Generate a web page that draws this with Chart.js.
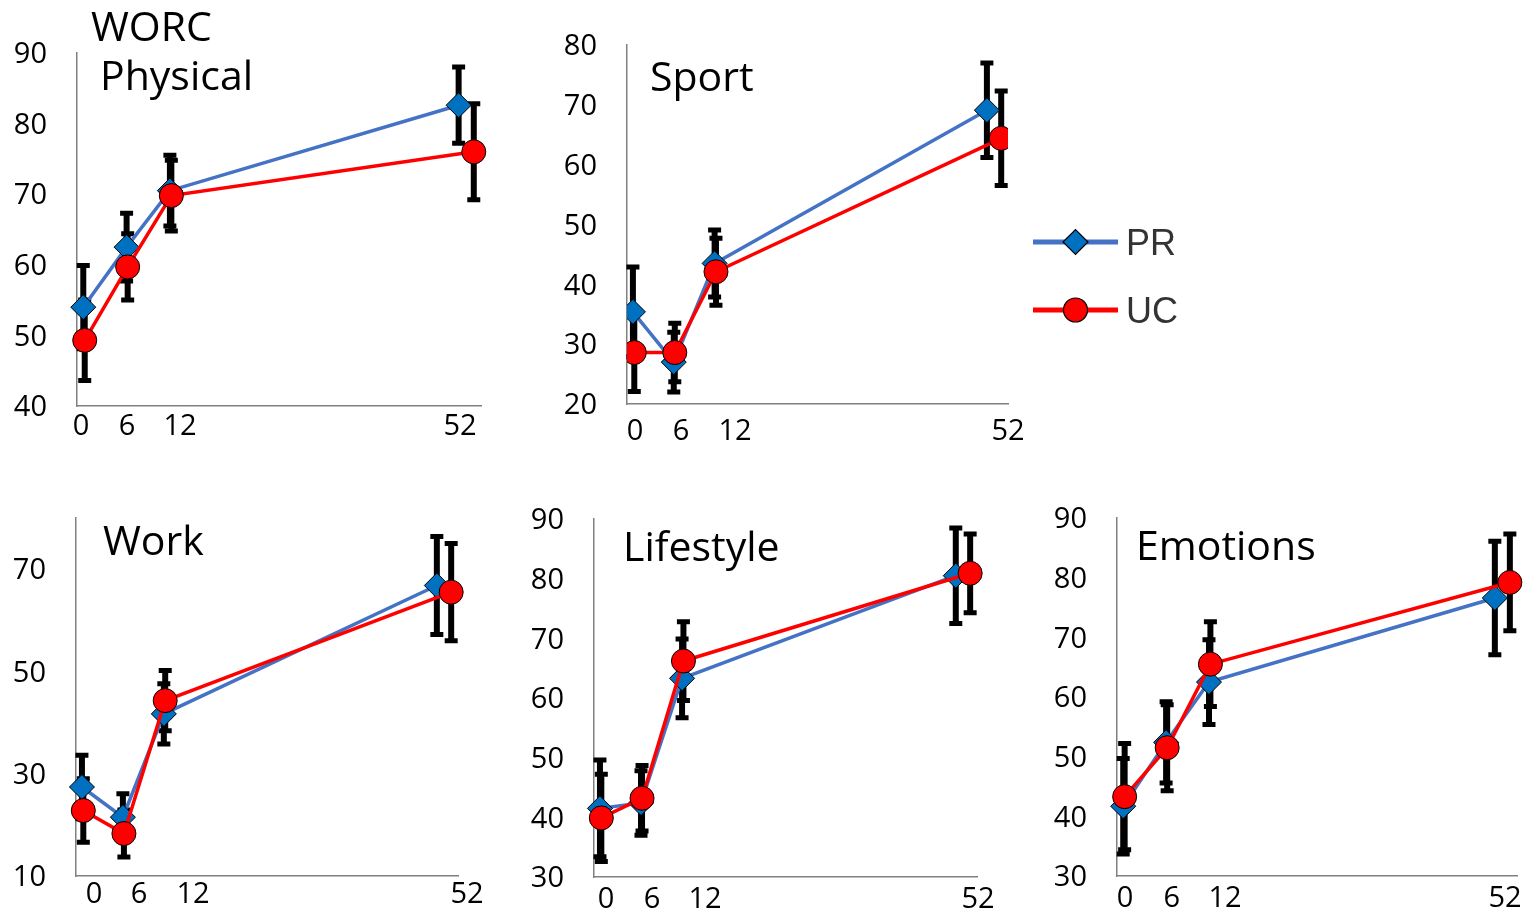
<!DOCTYPE html>
<html>
<head>
<meta charset="utf-8">
<script src="https://cdn.jsdelivr.net/npm/chart.js@4.4.1/dist/chart.umd.min.js"></script>
<style>
  html, body { margin: 0; padding: 0; background: #fff; width: 1536px; height: 914px; overflow: hidden; }
  canvas { position: absolute; }
</style>
</head>
<body>
<script>
// Follow-up weeks and their axis labels
const WEEKS = [0, 6, 12, 52];
const WEEK_LABELS = ['0', '6', '12', '52'];
const SERIES_NAMES = ['PR', 'UC'];

// WORC Physical (mean and error)
const physicalPR = [54.0, 62.5, 70.5, 82.6];
const physicalPRErr = [5.9, 4.8, 5.0, 5.4];
const physicalUC = [49.3, 59.7, 69.8, 76.0];
const physicalUCErr = [5.7, 4.7, 5.0, 6.8];
const physicalTicks = [40, 50, 60, 70, 80, 90];

// Sport
const sportPR = [35.4, 27.0, 43.5, 69.1];
const sportPRErr = [7.5, 5.0, 5.6, 7.9];
const sportUC = [28.6, 28.6, 42.1, 64.4];
const sportUCErr = [6.5, 4.9, 5.6, 7.9];
const sportTicks = [20, 30, 40, 50, 60, 70, 80];

// Work
const workPR = [27.4, 21.5, 41.7, 66.8];
const workPRErr = [6.2, 4.6, 5.9, 9.6];
const workUC = [22.8, 18.3, 44.3, 65.5];
const workUCErr = [6.2, 4.6, 5.9, 9.5];
const workTicks = [10, 30, 50, 70];

// Lifestyle
const lifestylePR = [41.5, 42.4, 63.3, 80.5];
const lifestylePRErr = [8.1, 5.4, 6.6, 8.0];
const lifestyleUC = [39.9, 43.2, 66.2, 80.9];
const lifestyleUCErr = [7.3, 5.5, 6.6, 6.6];
const lifestyleTicks = [30, 40, 50, 60, 70, 80, 90];

// Emotions
const emotionsPR = [41.7, 52.4, 62.5, 76.6];
const emotionsPRErr = [8.0, 6.8, 7.1, 9.5];
const emotionsUC = [43.3, 51.5, 65.5, 79.2];
const emotionsUCErr = [8.9, 7.2, 7.1, 8.1];
const emotionsTicks = [30, 40, 50, 60, 70, 80, 90];

// Horizontal layout of the time axis (in weeks)
const X_MIN = -0.87, X_MAX = 55.1;
const UC_DODGE = [0.2, 0.15, 0.2, 2.1];   // UC markers sit slightly right of PR

const FONT = '"Open Sans", Lato, sans-serif';
const TICK_SIZE = 29;
const TITLE_SIZE = 41;
const YW = 70, TOP = 55, XH = 50, RIGHT = 40;

const COLORS = {
  PR: { line: '#4472C4', fill: '#0070C0', style: 'rectRot', radius: 12.5 },
  UC: { line: '#FF0000', fill: '#FF0000', style: 'circle', radius: 12 }
};

// Vertical mean ± error whiskers with caps, drawn under lines and markers
const errorBarPlugin = {
  id: 'errorBars',
  beforeDatasetsDraw(chart) {
    const ctx = chart.ctx;
    const ys = chart.scales.y;
    ctx.save();
    ctx.strokeStyle = '#000';
    ctx.lineCap = 'butt';
    chart.data.datasets.forEach((ds, di) => {
      const meta = chart.getDatasetMeta(di);
      meta.data.forEach((pt, i) => {
        const v = ds.data[i].y, e = ds.errors[i];
        const yt = ys.getPixelForValue(v + e);
        const yb = ys.getPixelForValue(v - e);
        ctx.lineWidth = 6;
        ctx.beginPath();
        ctx.moveTo(pt.x, yt); ctx.lineTo(pt.x, yb);
        ctx.stroke();
        ctx.lineWidth = 5;
        ctx.beginPath();
        ctx.moveTo(pt.x - 6.5, yt); ctx.lineTo(pt.x + 6.5, yt);
        ctx.moveTo(pt.x - 6.5, yb); ctx.lineTo(pt.x + 6.5, yb);
        ctx.stroke();
      });
    });
    ctx.restore();
  }
};

// Panel titles written inside the plot area
const titlePlugin = {
  id: 'panelTitle',
  afterDatasetsDraw(chart, args, opts) {
    const ctx = chart.ctx, a = chart.chartArea;
    ctx.save();
    ctx.fillStyle = '#000';
    ctx.font = TITLE_SIZE + 'px ' + FONT;
    ctx.textBaseline = 'alphabetic';
    ctx.textAlign = 'left';
    (opts.lines || []).forEach(l => ctx.fillText(l.text, a.left + l.dx, a.top + l.dy));
    ctx.restore();
  }
};

// Line-and-marker key placed to the right of a plot
const keyPlugin = {
  id: 'seriesKey',
  afterDraw(chart, args, opts) {
    if (!opts.show) return;
    const ctx = chart.ctx, a = chart.chartArea;
    ctx.save();
    chart.data.datasets.forEach((ds, i) => {
      const y = a.top + opts.y[i];
      const x0 = a.right + opts.x0, x1 = a.right + opts.x1, xm = (x0 + x1) / 2;
      ctx.strokeStyle = ds.borderColor;
      ctx.lineWidth = 5;
      ctx.beginPath(); ctx.moveTo(x0, y); ctx.lineTo(x1, y); ctx.stroke();
      ctx.fillStyle = ds.pointBackgroundColor;
      ctx.strokeStyle = '#000';
      ctx.lineWidth = 1.2;
      Chart.helpers.drawPoint(ctx, { pointStyle: ds.pointStyle, radius: ds.pointRadius, borderWidth: 1.2, rotation: 0 }, xm, y);
      ctx.fillStyle = '#333';
      ctx.font = '36px "Liberation Sans", Arial, sans-serif';
      ctx.textBaseline = 'alphabetic';
      ctx.fillText(ds.label, a.right + opts.tx, y + 13);
    });
    ctx.restore();
  }
};

function dataset(name, means, errs, dodge, clip) {
  const c = COLORS[name];
  return {
    label: name,
    data: WEEKS.map((w, i) => ({ x: w + (dodge ? dodge[i] : 0), y: means[i] })),
    errors: errs,
    borderColor: c.line,
    borderWidth: 3.5,
    pointStyle: c.style,
    pointRadius: c.radius,
    pointBackgroundColor: c.fill,
    pointBorderColor: '#000',
    pointBorderWidth: 1,
    order: name === 'PR' ? 2 : 1,
    clip: clip ? undefined : false
  };
}

function makePanel(p) {
  const right = p.right || RIGHT;
  const w = YW + (p.area.r - p.area.l) + right;
  const h = TOP + (p.area.b - p.area.t) + XH;
  const cv = document.createElement('canvas');
  cv.width = w; cv.height = h;
  cv.style.width = w + 'px'; cv.style.height = h + 'px';
  cv.style.left = (p.area.l - YW) + 'px';
  cv.style.top = (p.area.t - TOP) + 'px';
  document.body.appendChild(cv);

  new Chart(cv, {
    type: 'line',
    data: {
      datasets: [
        dataset(SERIES_NAMES[0], p.pr, p.prErr, null, p.clip),
        dataset(SERIES_NAMES[1], p.uc, p.ucErr, UC_DODGE, p.clip)
      ]
    },
    options: {
      responsive: false,
      animation: false,
      devicePixelRatio: 1,
      layout: { autoPadding: false, padding: { left: 0, top: TOP, right: right, bottom: 0 } },
      plugins: {
        legend: { display: false },
        tooltip: { enabled: false },
        panelTitle: { lines: p.title },
        seriesKey: p.key || { show: false }
      },
      scales: {
        x: {
          type: 'linear', min: X_MIN, max: X_MAX,
          grid: { display: false, drawTicks: false },
          border: { display: true, color: '#808080', width: 1.5 },
          afterBuildTicks: s => { s.ticks = p.tickAt.map(v => ({ value: v })); },
          afterFit: s => { s.height = XH; },
          ticks: {
            autoSkip: false, maxRotation: 0, minRotation: 0, padding: p.xPad,
            color: '#000', font: { family: FONT, size: TICK_SIZE },
            callback: (v, i) => WEEK_LABELS[i]
          }
        },
        y: {
          type: 'linear', min: p.yMin, max: p.yMax,
          grid: { display: false, drawTicks: false },
          border: { display: true, color: '#808080', width: 1.5 },
          afterBuildTicks: s => { s.ticks = p.yTicks.map(v => ({ value: v })); },
          afterFit: s => { s.width = YW; },
          ticks: { padding: 30, labelOffset: 2, color: '#000', font: { family: FONT, size: TICK_SIZE } }
        }
      }
    },
    plugins: [errorBarPlugin, titlePlugin, keyPlugin]
  });
}

const panels = [
  { area: { l: 77, t: 53, r: 481, b: 406 }, yMin: 40, yMax: 90, yTicks: physicalTicks,
    pr: physicalPR, prErr: physicalPRErr, uc: physicalUC, ucErr: physicalUCErr,
    tickAt: [-0.32, 6.06, 13.4, 52.19], xPad: 3.6,
    title: [{ text: 'WORC', dx: 14, dy: -12 }, { text: 'Physical', dx: 23, dy: 37 }] },
  { area: { l: 627, t: 45, r: 1008, b: 404 }, yMin: 20, yMax: 80, yTicks: sportTicks,
    pr: sportPR, prErr: sportPRErr, uc: sportUC, ucErr: sportUCErr, clip: true,
    tickAt: [0.31, 7.06, 14.99, 55.1], xPad: 10.6, right: 190,
    title: [{ text: 'Sport', dx: 23, dy: 46 }],
    key: { show: true, x0: 25, x1: 110, tx: 118, y: [197, 265] } },
  { area: { l: 76, t: 518, r: 458, b: 876 }, yMin: 10, yMax: 80, yTicks: workTicks,
    pr: workPR, prErr: workPRErr, uc: workUC, ucErr: workUCErr,
    tickAt: [1.77, 8.36, 16.27, 56.42], xPad: 1.6,
    title: [{ text: 'Work', dx: 27, dy: 37 }] },
  { area: { l: 594, t: 519, r: 977, b: 877 }, yMin: 30, yMax: 90, yTicks: lifestyleTicks,
    pr: lifestylePR, prErr: lifestylePRErr, uc: lifestyleUC, ucErr: lifestyleUCErr,
    tickAt: [0.88, 7.61, 15.35, 55.25], xPad: 5.6,
    title: [{ text: 'Lifestyle', dx: 29, dy: 42 }] },
  { area: { l: 1117, t: 518, r: 1517, b: 876 }, yMin: 30, yMax: 90, yTicks: emotionsTicks,
    pr: emotionsPR, prErr: emotionsPRErr, uc: emotionsUC, ucErr: emotionsUCErr,
    tickAt: [0.25, 6.78, 14.24, 53.42], xPad: 5.3,
    title: [{ text: 'Emotions', dx: 19, dy: 42 }] }
];

panels.forEach(makePanel);
</script>
</body>
</html>
